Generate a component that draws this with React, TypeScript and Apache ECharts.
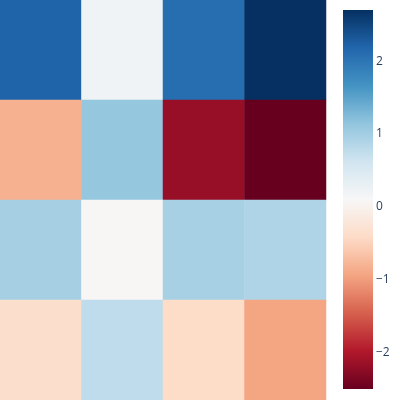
import React, { useEffect, useRef } from "react";
import * as echarts from "echarts";

const columns = ["0", "1", "2", "3"];
const rows = ["0", "1", "2", "3"];
const row0 = [2.2, 0.19, 2.08, 2.69];
const row1 = [-0.84, 1.1, -2.19, -2.52];
const row2 = [0.96, 0.06, 0.95, 0.88];
const row3 = [-0.38, 0.76, -0.42, -0.95];
const values = [row0, row1, row2, row3];
const tickValues = [-2, -1, 0, 1, 2];
const rdbu = [
  "#67001f", "#b2182b", "#d6604d", "#f4a582", "#fddbc7", "#f7f7f7",
  "#d1e5f0", "#92c5de", "#4393c3", "#2166ac", "#053061",
];
const vMin = -2.52;
const vMax = 2.69;

export default function App() {
  const ref = useRef<HTMLDivElement>(null);
  useEffect(() => {
    if (!ref.current) return;
    const chart = echarts.init(ref.current, undefined, { renderer: "svg" });
    const data: [number, number, number][] = [];
    values.forEach((r, y) => r.forEach((v, x) => data.push([x, y, v])));
    const stops = rdbu.map((c, i) => ({ offset: i / (rdbu.length - 1), color: c }));
    chart.setOption({
      animation: false,
      grid: [
        { left: 0, top: 0, width: 326, height: 400 },
        { left: 343, top: 10, width: 30, height: 379 },
      ],
      xAxis: [
        { type: "category", data: columns, gridIndex: 0, show: false },
        { type: "value", gridIndex: 1, show: false, min: 0, max: 1 },
      ],
      yAxis: [
        { type: "category", data: rows, gridIndex: 0, show: false, inverse: true },
        {
          type: "value",
          gridIndex: 1,
          position: "right",
          min: vMin,
          max: vMax,
          axisLine: { show: false },
          axisTick: { show: false },
          splitLine: { show: false },
          axisLabel: {
            margin: 3,
            customValues: tickValues,
            color: "#2a3f5f",
            fontSize: 12,
            fontFamily: "Open Sans",
            formatter: (v: number) => String(v).replace("-", "\u2212"),
          },
        },
      ],
      visualMap: {
        type: "continuous",
        show: false,
        min: vMin,
        max: vMax,
        seriesIndex: 0,
        inRange: { color: rdbu },
      },
      graphic: [
        {
          type: "rect",
          shape: { x: 343, y: 10, width: 30, height: 379 },
          style: {
            fill: new echarts.graphic.LinearGradient(0, 1, 0, 0, stops),
          },
          silent: true,
        },
      ],
      series: [
        {
          type: "heatmap",
          xAxisIndex: 0,
          yAxisIndex: 0,
          data,
          itemStyle: { borderWidth: 0 },
          emphasis: { disabled: true },
        },
      ],
    });
    return () => chart.dispose();
  }, []);
  return (
    <div
      ref={ref}
      style={{ position: "fixed", left: 0, top: 0, width: 400, height: 400 }}
    />
  );
}
